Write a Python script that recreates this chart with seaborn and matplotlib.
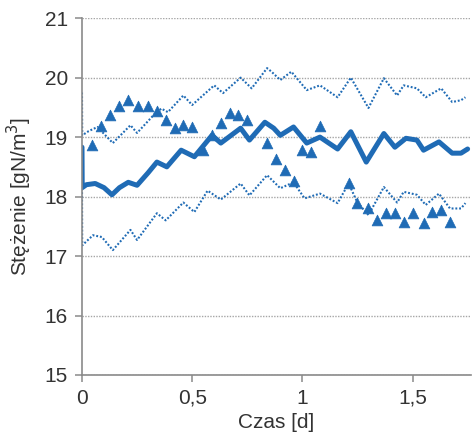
import numpy as np
import pandas as pd
import matplotlib
matplotlib.use("Agg")
import matplotlib.pyplot as plt
import seaborn as sns

# ── Data ─────────────────────────────────────────────────────────────────────
t_mid = [0, 0.001, 0.02, 0.06, 0.10, 0.136, 0.17, 0.21, 0.25, 0.30, 0.34, 0.385,
         0.45, 0.51, 0.59, 0.63, 0.72, 0.76, 0.83, 0.87, 0.90, 0.96, 1.02, 1.08,
         1.16, 1.22, 1.29, 1.37, 1.42, 1.47, 1.52, 1.55, 1.62, 1.68, 1.72, 1.75]
mid = [18.83, 18.15, 18.2, 18.22, 18.15, 18.03, 18.15, 18.24, 18.19, 18.4, 18.58, 18.5,
       18.78, 18.67, 19.03, 18.9, 19.15, 18.95, 19.25, 19.15, 19.03, 19.17, 18.9, 19.0,
       18.8, 19.09, 18.58, 19.06, 18.83, 18.98, 18.95, 18.78, 18.92, 18.73, 18.73, 18.8]

t_up = [0, 0.001, 0.03, 0.07, 0.14, 0.22, 0.25, 0.32, 0.36, 0.39, 0.46, 0.50, 0.60,
        0.64, 0.72, 0.77, 0.84, 0.86, 0.90, 0.95, 0.975, 1.02, 1.08, 1.16, 1.22,
        1.30, 1.37, 1.43, 1.46, 1.52, 1.56, 1.63, 1.68, 1.72, 1.74]
up = [19.75, 19.03, 19.1, 19.17, 18.9, 19.2, 19.07, 19.35, 19.48, 19.42, 19.7, 19.54, 19.87,
      19.74, 20.0, 19.82, 20.16, 20.1, 19.96, 20.1, 19.99, 19.79, 19.87, 19.67, 20.0,
      19.49, 19.99, 19.7, 19.87, 19.82, 19.67, 19.82, 19.59, 19.62, 19.67]

t_lo = [0, 0.001, 0.05, 0.09, 0.14, 0.22, 0.25, 0.34, 0.38, 0.46, 0.51, 0.57, 0.63,
        0.72, 0.76, 0.84, 0.90, 0.96, 1.01, 1.08, 1.16, 1.21, 1.25, 1.30, 1.37, 1.43,
        1.46, 1.52, 1.56, 1.62, 1.67, 1.72, 1.74]
lo = [18.2, 17.18, 17.35, 17.32, 17.1, 17.44, 17.27, 17.72, 17.6, 17.9, 17.74, 18.1, 17.95,
      18.22, 18.02, 18.36, 18.14, 18.24, 17.97, 18.05, 17.89, 18.22, 17.9, 17.69, 18.16, 17.9,
      18.08, 18.03, 17.86, 18.05, 17.8, 17.8, 17.89]

t_obs = [0.045, 0.085, 0.127, 0.17, 0.21, 0.255, 0.30, 0.34, 0.38, 0.42, 0.46, 0.50,
         0.55, 0.59, 0.63, 0.67, 0.71, 0.75, 0.84, 0.88, 0.92, 0.96, 1.00, 1.04, 1.08,
         1.21, 1.25, 1.30, 1.34, 1.38, 1.42, 1.46, 1.50, 1.55, 1.59, 1.63, 1.67]
obs = [18.87, 19.18, 19.37, 19.52, 19.62, 19.53, 19.53, 19.44, 19.29, 19.15, 19.2, 19.17,
       18.78, 19.03, 19.24, 19.4, 19.38, 19.29, 18.9, 18.64, 18.45, 18.26, 18.78, 18.75, 19.18,
       18.22, 17.9, 17.8, 17.6, 17.72, 17.72, 17.57, 17.72, 17.56, 17.74, 17.77, 17.58]

x_ticks = [0, 0.5, 1, 1.5]
x_labels = ["0", "0,5", "1", "1,5"]
y_ticks = [15, 16, 17, 18, 19, 20, 21]

BLUE = '#1f6bb5'
GREY = '#8a8a8a'
TEXT = '#333333'

# ── Style ────────────────────────────────────────────────────────────────────
sns.set_theme(style='white')
plt.rcParams['font.family'] = ['Liberation Sans', 'DejaVu Sans']

fig = plt.figure(figsize=(4.72, 4.43), dpi=100)
ax = fig.add_axes([0.1737, 0.1535, 0.824, 0.8055])

# thin dotted envelopes
sns.lineplot(x=t_up, y=up, ax=ax, color=BLUE, lw=1.5, linestyle=(0, (0.9, 0.9)),
             sort=False, estimator=None)
sns.lineplot(x=t_lo, y=lo, ax=ax, color=BLUE, lw=1.5, linestyle=(0, (0.9, 0.9)),
             sort=False, estimator=None)
# thick model line
sns.lineplot(x=t_mid, y=mid, ax=ax, color=BLUE, lw=3.6, sort=False, estimator=None)
# measurements
sns.scatterplot(x=t_obs, y=obs, ax=ax, color=BLUE, marker='^', s=60,
                edgecolor=BLUE, linewidth=0.5, zorder=5)

ax.set_xlim(0, 1.765)
ax.set_ylim(15, 21)
ax.set_xticks(x_ticks)
ax.set_xticklabels(x_labels)
ax.set_yticks(y_ticks)
ax.yaxis.grid(True, linestyle=(0, (1, 1)), color='#a6a6a6', lw=1.0)
ax.xaxis.grid(False)

for side in ['top', 'right']:
    ax.spines[side].set_visible(False)
for side in ['left', 'bottom']:
    ax.spines[side].set_color(GREY)
    ax.spines[side].set_linewidth(1.2)

ax.tick_params(axis='both', which='major', direction='out', length=5, width=1.1,
               color=GREY, labelsize=15, labelcolor=TEXT, pad=5)
ax.tick_params(left=True, bottom=True)

ax.set_xlabel('Czas [d]', fontsize=15, color=TEXT, labelpad=4)
ax.set_ylabel('Stężenie [gN/m$^3$]', fontsize=15, color=TEXT, labelpad=8)

fig.savefig('out.png', dpi=100)
